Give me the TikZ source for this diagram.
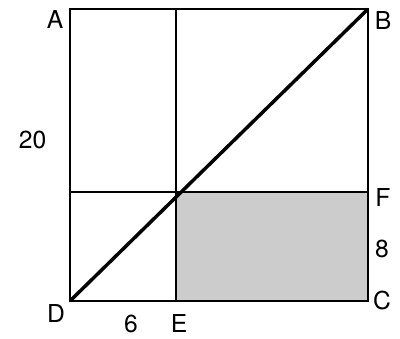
\documentclass[tikz,border=0pt]{standalone}
\usepackage{fontspec}
\setmainfont{TeX Gyre Heros}
\begin{document}
\begin{tikzpicture}[x=0.75pt,y=0.75pt,font=\fontsize{18.5}{21}\selectfont,
  edge/.style={line width=1.9pt},
  diag/.style={line width=2.6pt}]
\useasboundingbox (0,0) rectangle (400,339);
\coordinate (A) at (70,330);
\coordinate (B) at (368,330);
\coordinate (C) at (368,38);
\coordinate (D) at (70,38);
\coordinate (E) at (176,38);
\coordinate (F) at (368,147);
\coordinate (G) at (176,147);
\coordinate (H) at (70,147);
\coordinate (K) at (176,330);
\fill[fill={rgb,255:red,204;green,204;blue,204}] (G) rectangle (C);
\draw[edge] (A) -- (B) -- (C) -- (D) -- cycle;
\draw[edge] (K) -- (E);
\draw[edge] (H) -- (F);
\draw[diag] (D) -- (B);
\node (lA) at (55,319.5) {A};
\node (lB) at (383,318) {B};
\node (lF) at (383,141.5) {F};
\node (l8) at (382,90) {8};
\node (lC) at (382,38) {C};
\node (lD) at (56,25.5) {D};
\node (l6) at (131,15) {6};
\node (lE) at (179,15) {E};
\node (l20) at (32.5,199) {20};
\end{tikzpicture}
\end{document}
